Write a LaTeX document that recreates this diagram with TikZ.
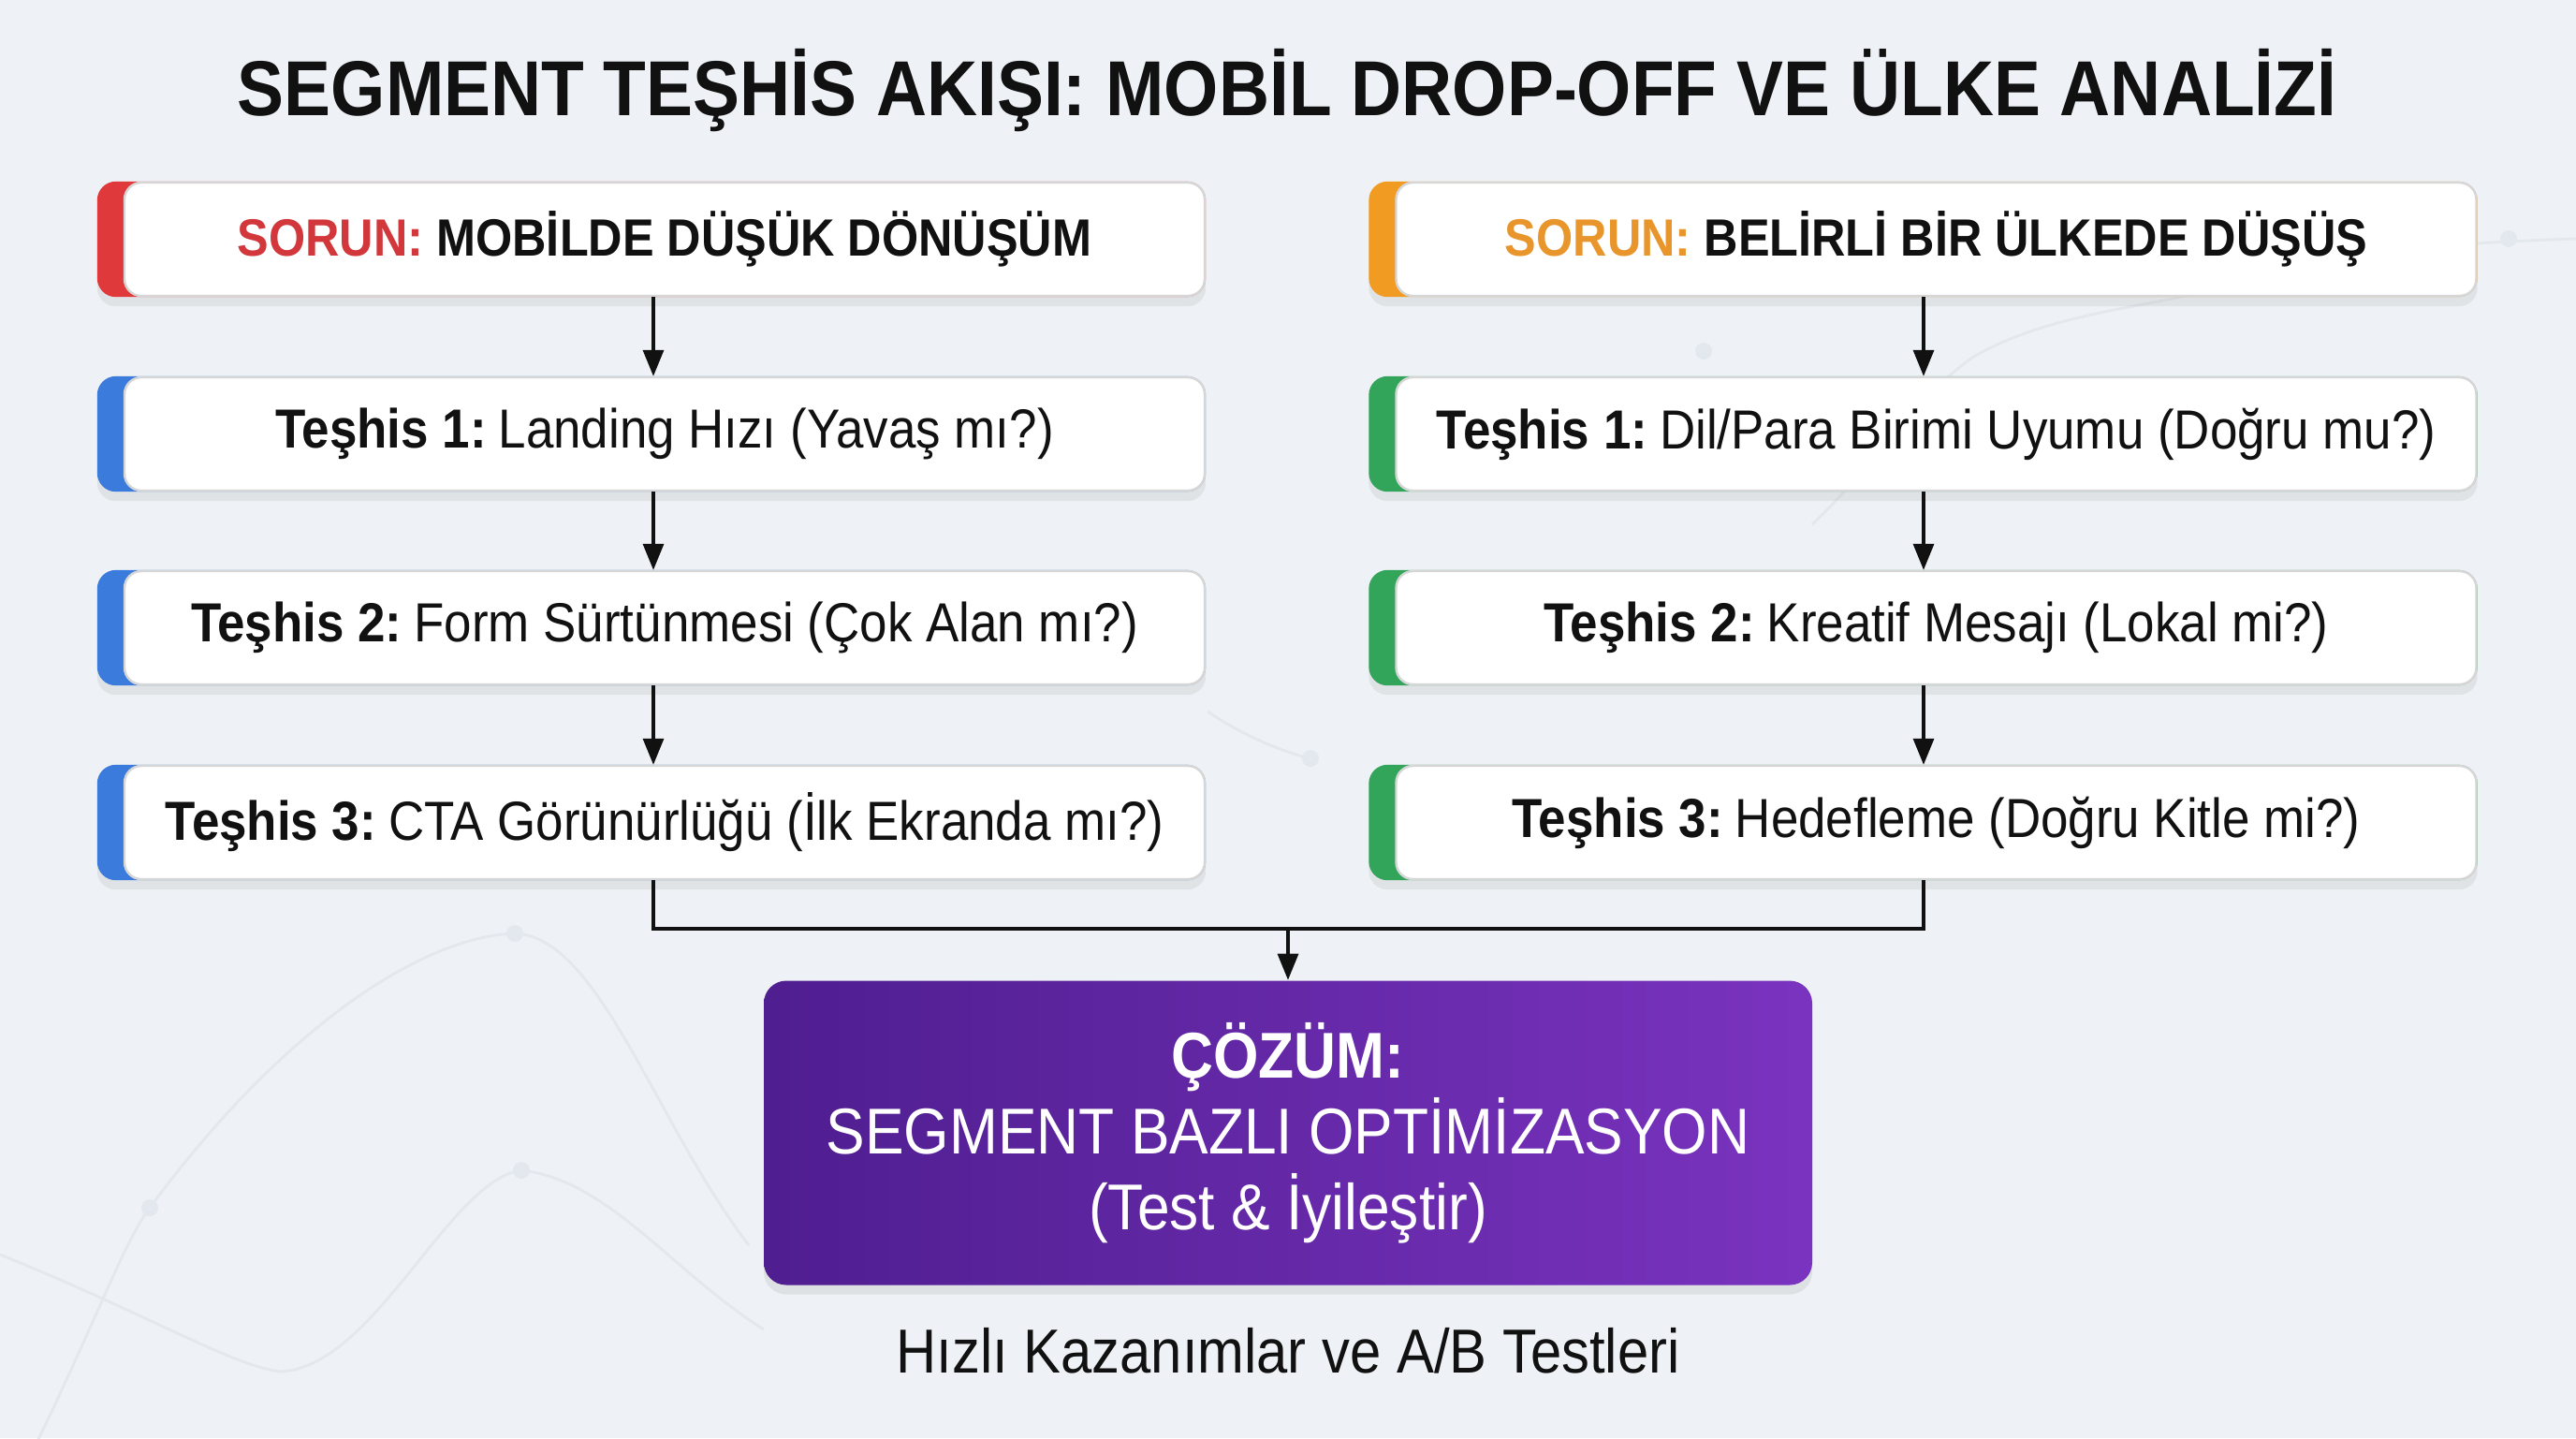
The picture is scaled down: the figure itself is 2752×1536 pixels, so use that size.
\documentclass[tikz,border=0pt]{standalone}
\usepackage{fontspec}
\setmainfont[FakeStretch=0.9]{Liberation Sans}
\usetikzlibrary{shadows,arrows.meta,backgrounds}
\definecolor{bgcol}{HTML}{EEF2F6}
\definecolor{faint}{HTML}{E3E8EE}
\definecolor{redacc}{HTML}{E0393B}
\definecolor{redtxt}{HTML}{D2373C}
\definecolor{orgacc}{HTML}{F29B22}
\definecolor{orgtxt}{HTML}{E8952B}
\definecolor{blueacc}{HTML}{3A7BDB}
\definecolor{greenacc}{HTML}{33A55A}
\definecolor{purpL}{HTML}{4F1E90}
\definecolor{purpR}{HTML}{7A33BF}
\definecolor{ink}{HTML}{111111}
\pgfdeclarelayer{bgl}
\pgfsetlayers{bgl,background,main}
\newcommand{\dlabel}[1]{\textbf{#1}\hspace{0.22em}}
\begin{document}
\begin{tikzpicture}[x=0.25pt,y=-0.25pt,
  wbox/.style={fill=white, draw=black!16, line width=0.6pt, rounded corners=4.5pt,
    minimum width=288.5pt, minimum height=30.25pt, inner sep=0pt, align=center, text=ink},
  probtxt/.style={font=\fontsize{14.0}{16}\selectfont\bfseries},
  diagtxt/.style={font=\fontsize{14.7}{17}\selectfont},
  accent/.style={fill=#1, rounded corners=5pt,
    drop shadow={opacity=0.13, shadow xshift=0pt, shadow yshift=-2.5pt}},
  arr/.style={line width=0.8pt, draw=ink, -{Triangle[length=7pt,width=5.5pt]}},
  link/.style={line width=0.8pt, draw=ink},
  bgline/.style={draw=faint, line width=0.7pt},
  bgdot/.style={fill=faint}
]
\useasboundingbox (0,0) rectangle (2752,1536);
\begin{pgfonlayer}{bgl}
  \fill[bgcol] (0,0) rectangle (2752,1536);
  % faint chart decoration
  \draw[bgline] (20,1580) .. controls (100,1420) and (130,1330) .. (160,1290)
     .. controls (300,1100) and (450,1000) .. (550,997)
     .. controls (640,1000) and (700,1200) .. (800,1330);
  \draw[bgline] (0,1340) .. controls (150,1400) and (250,1460) .. (300,1465)
     .. controls (400,1460) and (480,1260) .. (557,1250)
     .. controls (650,1260) and (720,1360) .. (816,1420);
  \fill[bgdot] (160,1290) circle (9);
  \fill[bgdot] (550,997) circle (9);
  \fill[bgdot] (557,1250) circle (9);
  \draw[bgline] (1936,560) .. controls (2000,500) and (2050,420) .. (2110,380)
     .. controls (2200,330) and (2300,330) .. (2400,300)
     .. controls (2500,270) and (2600,260) .. (2752,255);
  \fill[bgdot] (1820,375) circle (9);
  \fill[bgdot] (2680,255) circle (9);
  \draw[bgline] (1290,760) .. controls (1350,800) and (1400,810) .. (1400,810);
  \fill[bgdot] (1400,810) circle (9);
\end{pgfonlayer}

% title
\node[font=\fontsize{20.8}{24}\selectfont\bfseries, text=ink] (title) at (1375,96)
  {SEGMENT TEŞHİS AKIŞI: MOBİL DROP-OFF VE ÜLKE ANALİZİ};

\coordinate (colL) at (698,0);
\coordinate (colR) at (2055,0);
\coordinate (join) at (1376,992);

% left column
\node[wbox, probtxt] (l1) at (710,255.5) {\textcolor{redtxt}{SORUN:} MOBİLDE DÜŞÜK DÖNÜŞÜM};
\node[wbox, diagtxt] (l2) at (710,463.5) {\dlabel{Teşhis 1:}Landing Hızı (Yavaş mı?)};
\node[wbox, diagtxt] (l3) at (710,670.5) {\dlabel{Teşhis 2:}Form Sürtünmesi (Çok Alan mı?)};
\node[wbox, diagtxt] (l4) at (710,878.5) {\dlabel{Teşhis 3:}CTA Görünürlüğü (İlk Ekranda mı?)};

% right column
\node[wbox, probtxt] (r1) at (2068.5,255.5) {\textcolor{orgtxt}{SORUN:} BELİRLİ BİR ÜLKEDE DÜŞÜŞ};
\node[wbox, diagtxt] (r2) at (2068.5,463.5) {\dlabel{Teşhis 1:}Dil/Para Birimi Uyumu (Doğru mu?)};
\node[wbox, diagtxt] (r3) at (2068.5,670.5) {\dlabel{Teşhis 2:}Kreatif Mesajı (Lokal mi?)};
\node[wbox, diagtxt] (r4) at (2068.5,878.5) {\dlabel{Teşhis 3:}Hedefleme (Doğru Kitle mi?)};

% solution
\node[rounded corners=6pt, left color=purpL, right color=purpR, minimum width=280pt,
  minimum height=81.25pt, inner sep=0pt, align=center, text=white,
  font=\fontsize{17.3}{20.25}\selectfont,
  drop shadow={opacity=0.15, shadow xshift=0pt, shadow yshift=-2.5pt}]
  (sol) at (1376,1210) {\textbf{ÇÖZÜM:}\\SEGMENT BAZLI OPTİMİZASYON\\(Test \& İyileştir)};

\node[font=\fontsize{16.6}{19}\selectfont, text=ink] (foot) at (1376,1443)
  {Hızlı Kazanımlar ve A/B Testleri};

% accents
\begin{pgfonlayer}{background}
  \foreach \n/\c in {l1/redacc, l2/blueacc, l3/blueacc, l4/blueacc,
                     r1/orgacc, r2/greenacc, r3/greenacc, r4/greenacc}{
    \fill[accent=\c] ([xshift=-7pt]\n.south west) rectangle (\n.north east);
  }
\end{pgfonlayer}

% connectors
\draw[arr] (l1.south -| colL) -- (l2.north -| colL);
\draw[arr] (l2.south -| colL) -- (l3.north -| colL);
\draw[arr] (l3.south -| colL) -- (l4.north -| colL);
\draw[arr] (r1.south -| colR) -- (r2.north -| colR);
\draw[arr] (r2.south -| colR) -- (r3.north -| colR);
\draw[arr] (r3.south -| colR) -- (r4.north -| colR);
\draw[link] (l4.south -| colL) |- (join) -| (r4.south -| colR);
\draw[arr] (join) -- (sol.north);
\end{tikzpicture}
\end{document}
